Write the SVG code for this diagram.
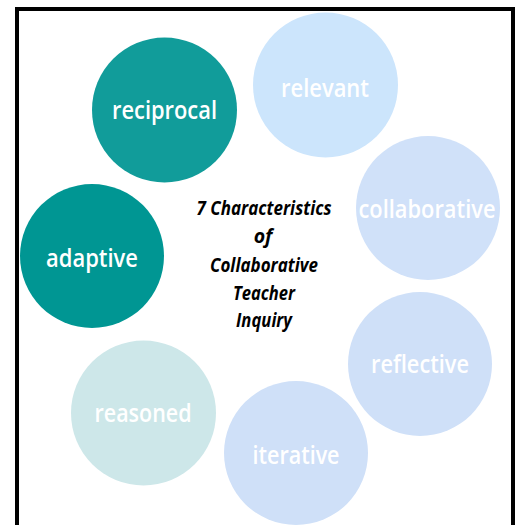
<svg xmlns="http://www.w3.org/2000/svg" width="520" height="525" viewBox="0 0 520 525">
<style>
.lbl{font-family:"Open Sans","Liberation Sans",sans-serif;font-weight:600;font-size:25px;fill:#ffffff;text-anchor:middle}
.ttl{font-family:"Open Sans","Liberation Sans",sans-serif;font-weight:700;font-style:italic;font-size:19.5px;fill:#000000;text-anchor:middle}
</style>
<rect x="0" y="0" width="520" height="525" fill="#ffffff"/>
<rect x="17" y="9" width="496" height="530" fill="#ffffff" stroke="#000000" stroke-width="4"/>
<g id="connectors"></g>
<g id="relevant"><circle cx="325.5" cy="85" r="72.5" fill="#CCE5FC"/><text class="lbl" x="325" y="97" textLength="88" lengthAdjust="spacingAndGlyphs">relevant</text></g>
<g id="reciprocal"><circle cx="164.5" cy="110" r="72.5" fill="#119C9A"/><text class="lbl" x="164.5" y="119" textLength="105" lengthAdjust="spacingAndGlyphs">reciprocal</text></g>
<g id="collaborative"><circle cx="428" cy="208" r="72" fill="#D0E1F9"/><text class="lbl" x="427" y="218" textLength="137" lengthAdjust="spacingAndGlyphs">collaborative</text></g>
<g id="adaptive"><circle cx="92" cy="256" r="72" fill="#009693"/><text class="lbl" x="92" y="267" textLength="92" lengthAdjust="spacingAndGlyphs">adaptive</text></g>
<g id="reflective"><circle cx="420" cy="364" r="72" fill="#CFE0F8"/><text class="lbl" x="420" y="373" textLength="98" lengthAdjust="spacingAndGlyphs">reflective</text></g>
<g id="reasoned"><circle cx="143.5" cy="413" r="72.5" fill="#CDE7E9"/><text class="lbl" x="143" y="422" textLength="97" lengthAdjust="spacingAndGlyphs">reasoned</text></g>
<g id="iterative"><circle cx="296" cy="453" r="72" fill="#CFE0F8"/><text class="lbl" x="296" y="464" textLength="87" lengthAdjust="spacingAndGlyphs">iterative</text></g>
<g id="title">
<text class="ttl" x="264" y="215" textLength="135" lengthAdjust="spacingAndGlyphs">7 Characteristics</text>
<text class="ttl" x="263" y="243">of</text>
<text class="ttl" x="264" y="272" textLength="108" lengthAdjust="spacingAndGlyphs">Collaborative</text>
<text class="ttl" x="264" y="300" textLength="62" lengthAdjust="spacingAndGlyphs">Teacher</text>
<text class="ttl" x="264" y="327" textLength="56" lengthAdjust="spacingAndGlyphs">Inquiry</text>
</g>
</svg>
